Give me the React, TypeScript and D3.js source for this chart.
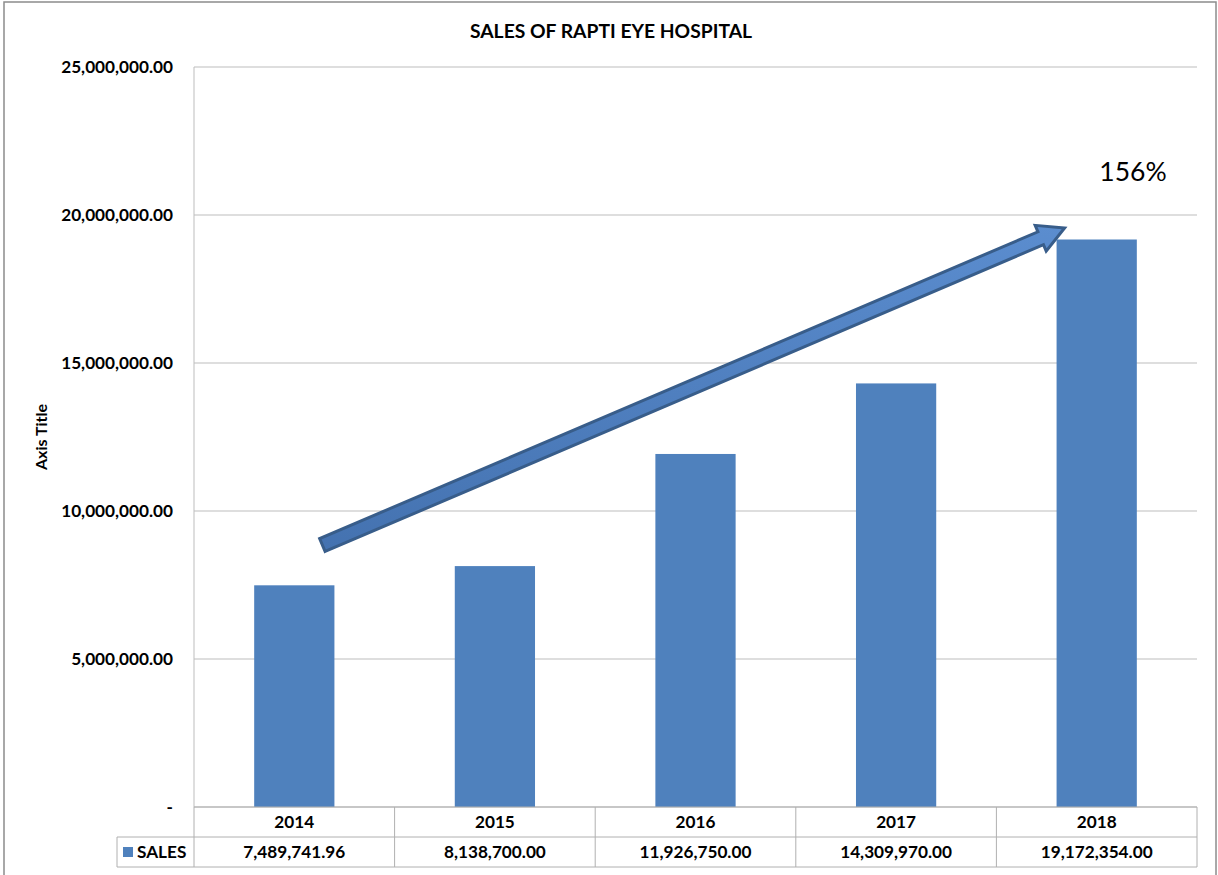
import React from "react";
import * as d3 from "d3";

const years = ["2014", "2015", "2016", "2017", "2018"];
const sales = [7489741.96, 8138700.0, 11926750.0, 14309970.0, 19172354.0];
const yTicks = [0, 5000000, 10000000, 15000000, 20000000, 25000000];
const seriesName = "SALES";
const title = "SALES OF RAPTI EYE HOSPITAL";
const axisTitle = "Axis Title";
const growthLabel = "156%";
// arrow annotation: [category, offset within band, value] for tail and tip
const arrowTail = { cat: "2014", offset: 0.64, value: 8850000 };
const arrowTip = { cat: "2018", offset: 0.34, value: 19560000 };

const W = 1218, H = 875;
const plot = { left: 194, right: 1197, top: 67, bottom: 807 };
const tableLeft = 117;
const rowH = 30;
const font = "Lato, 'Open Sans', sans-serif";
const barColor = "#4F81BD";

const fmt = (v: number) => d3.format(",.2f")(v);

export default function App() {
  const x = d3.scaleBand<string>().domain(years).range([plot.left, plot.right]).paddingInner(0).paddingOuter(0);
  const y = d3.scaleLinear().domain([0, 25000000]).range([plot.bottom, plot.top]);
  const bw = x.bandwidth() * 0.4;

  const tx = (x(arrowTail.cat) as number) + x.bandwidth() * arrowTail.offset;
  const ty = y(arrowTail.value);
  const hx = (x(arrowTip.cat) as number) + x.bandwidth() * arrowTip.offset;
  const hy = y(arrowTip.value);
  const dx = hx - tx, dy = hy - ty;
  const len = Math.hypot(dx, dy);
  const ux = dx / len, uy = dy / len;
  const nx = -uy, ny = ux;
  const sw = 7, hw = 14, hl = 26;
  const bx = hx - ux * hl, by = hy - uy * hl;
  const pts = [
    [tx + nx * sw, ty + ny * sw],
    [bx + nx * sw, by + ny * sw],
    [bx + nx * hw, by + ny * hw],
    [hx, hy],
    [bx - nx * hw, by - ny * hw],
    [bx - nx * sw, by - ny * sw],
    [tx - nx * sw, ty - ny * sw],
  ];
  const arrowPath = "M" + pts.map((p) => p.join(",")).join("L") + "Z";

  const row1 = plot.bottom;
  const row2 = plot.bottom + rowH;
  const row3 = plot.bottom + 2 * rowH;
  const fs = 17.2;

  return (
    <svg width={W} height={H} style={{ position: "absolute", left: 0, top: 0, background: "#fff" }}>
      <defs>
        <linearGradient id="ag" x1="0" y1="0" x2="0" y2="1">
          <stop offset="0" stopColor="#5B8DCF" />
          <stop offset="1" stopColor="#4472B0" />
        </linearGradient>
      </defs>
      <rect x={4} y={2} width={1212} height={880} fill="#fff" stroke="#8c8c8c" strokeWidth={1.5} />
      <text x={611} y={38} textAnchor="middle" fontFamily={font} fontWeight="bold" fontSize={19.3}>{title}</text>
      {yTicks.map((t) => (
        <line key={t} x1={plot.left} x2={plot.right} y1={y(t)} y2={y(t)} stroke="#BDBDBD" strokeWidth={1} />
      ))}
      <line x1={plot.left} x2={plot.left} y1={plot.top} y2={plot.bottom} stroke="#BDBDBD" />
      {yTicks.map((t) => (
        <text key={"l" + t} x={173} y={y(t) + 6} textAnchor="end" fontFamily={font} fontWeight="bold" fontSize={fs}>
          {t === 0 ? "-" : fmt(t)}
        </text>
      ))}
      <text transform={`translate(47,${(plot.top + plot.bottom) / 2}) rotate(-90)`} textAnchor="middle" fontFamily={font} fontWeight="bold" fontSize={16}>{axisTitle}</text>
      {years.map((yr, i) => (
        <rect key={yr} x={(x(yr) as number) + (x.bandwidth() - bw) / 2} y={y(sales[i])} width={bw} height={plot.bottom - y(sales[i])} fill={barColor} />
      ))}
      <path d={arrowPath} fill="url(#ag)" stroke="#385D8A" strokeWidth={3} strokeLinejoin="miter" />
      <text x={1133} y={181} textAnchor="middle" fontFamily={font} fontSize={26.5}>{growthLabel}</text>
      <g stroke="#B0B0B0" strokeWidth={1} fill="none">
        <line x1={plot.left} x2={plot.right} y1={row1} y2={row1} />
        <line x1={tableLeft} x2={plot.right} y1={row2} y2={row2} />
        <line x1={tableLeft} x2={plot.right} y1={row3} y2={row3} />
        <line x1={tableLeft} x2={tableLeft} y1={row2} y2={row3} />
        {years.map((yr) => (
          <line key={yr} x1={x(yr)} x2={x(yr)} y1={row1} y2={row3} />
        ))}
        <line x1={plot.right} x2={plot.right} y1={row1} y2={row3} />
      </g>
      {years.map((yr, i) => (
        <g key={"t" + yr}>
          <text x={(x(yr) as number) + x.bandwidth() / 2} y={row1 + 21} textAnchor="middle" fontFamily={font} fontWeight="bold" fontSize={fs}>{yr}</text>
          <text x={(x(yr) as number) + x.bandwidth() / 2} y={row2 + 21} textAnchor="middle" fontFamily={font} fontWeight="bold" fontSize={fs}>{fmt(sales[i])}</text>
        </g>
      ))}
      <rect x={123} y={row2 + 10} width={10} height={10} fill={barColor} />
      <text x={137} y={row2 + 21} fontFamily={font} fontWeight="bold" fontSize={fs}>{seriesName}</text>
    </svg>
  );
}
